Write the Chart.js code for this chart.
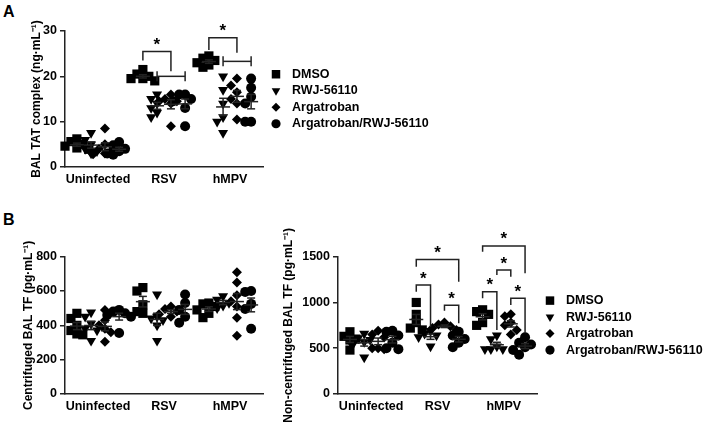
<!DOCTYPE html>
<html>
<head>
<meta charset="utf-8">
<script src="https://cdn.jsdelivr.net/npm/chart.js@4.4.1/dist/chart.umd.min.js"></script>
<style>
  body { margin: 0; background: #fff; font-family: Arial, "Liberation Sans", sans-serif; }
  #page { position: relative; width: 709px; height: 434px; overflow: hidden; }
  canvas { position: absolute; }
  .panel { position: absolute; font-weight: bold; font-size: 16px; }
</style>
</head>
<body>
<div id="page">
  <div class="panel" style="left:3px; top:3px">A</div>
  <div class="panel" style="left:3px; top:211px">B</div>
  <canvas id="tat" width="440" height="200" style="left:0; top:0"></canvas>
  <canvas id="cen" width="275" height="224" style="left:0; top:210px"></canvas>
  <canvas id="nonCen" width="439" height="224" style="left:270px; top:210px"></canvas>
</div>
<script>
const categories = ['Uninfected', 'RSV', 'hMPV'];
const groupNames = ['DMSO', 'RWJ-56110', 'Argatroban', 'Argatroban/RWJ-56110'];

// A: BAL TAT complex (ng/mL) - each array is [Uninfected, RSV, hMPV]
const tatDmso = [[6.2, 5.6, 5, 4.6, 4.2, 3.9], [21.5, 20.5, 20, 19.5, 19.5, 19], [24.5, 24, 23.5, 23, 22.5, 22]];
const tatRwj = [[7.5, 6, 5, 4, 3.5, 3], [16, 15, 14, 13, 12, 11], [20, 17, 14, 11, 10, 7.5]];
const tatArg = [[8.5, 5, 4, 3.5, 3, 2.8], [16, 15, 14.5, 14.5, 14, 9], [19.5, 18, 16.5, 15, 14, 10.5]];
const tatCombo = [[5.5, 4.8, 4, 3.5, 3, 2.7], [16, 16, 15, 14.5, 13, 9], [19.5, 17.5, 15.5, 14, 10, 10]];
const tatTicks = [0, 10, 20, 30];

// B: centrifuged BAL TF (pg/mL)
const cenDmso = [[470, 440, 400, 370, 350, 345], [620, 600, 520, 480, 470], [530, 525, 510, 490, 470, 445]];
const cenRwj = [[475, 450, 410, 380, 370, 310], [580, 450, 440, 430, 400, 310], [570, 550, 530, 515, 500]];
const cenArg = [[490, 430, 400, 380, 360, 305], [510, 495, 480, 465, 450], [710, 650, 575, 540, 510, 445, 340]];
const cenCombo = [[490, 480, 470, 460, 450, 355], [580, 530, 490, 450, 415], [600, 595, 525, 495, 380]];
const cenTicks = [0, 200, 400, 600, 800];

// B: non-centrifuged BAL TF (pg/mL)
const ncDmso = [[680, 630, 600, 590, 480], [1000, 870, 780, 720, 700], [920, 900, 870, 780, 750]];
const ncRwj = [[660, 610, 590, 570, 530, 400], [690, 660, 640, 620, 520], [640, 600, 520, 490, 490, 490]];
const ncArg = [[690, 650, 620, 500, 500, 490], [780, 760, 740, 720, 700], [870, 850, 780, 750, 700, 650]];
const ncCombo = [[690, 680, 640, 560, 500, 490], [680, 640, 600, 560, 510], [620, 560, 540, 510, 480, 430]];
const ncTicks = [0, 500, 1000, 1500];

// significance brackets: category, from/to group, bar level and leg ends in axis units
const tatBrackets = [
  { cat: 1, from: 0, to: 2, top: 25.5, left: 23.5, right: 21.1 },
  { cat: 2, from: 0, to: 2, top: 28.5, left: 25.8, right: 25.2 },
];
const tatBars = [
  { cat: 1, from: 1, to: 3, at: 20 },
  { cat: 2, from: 1, to: 3, at: 23.3 },
];
const ncBrackets = [
  { cat: 1, from: 0, to: 1, top: 1190, left: 1118, right: 736 },
  { cat: 1, from: 0, to: 3, top: 1470, left: 1390, right: 1227 },
  { cat: 1, from: 2, to: 3, top: 970, left: 910, right: 772 },
  { cat: 2, from: 0, to: 3, top: 1617, left: 1555, right: 1318 },
  { cat: 2, from: 1, to: 2, top: 1354, left: 1300, right: 1282 },
  { cat: 2, from: 0, to: 1, top: 1118, left: 1045, right: 699 },
  { cat: 2, from: 2, to: 3, top: 1045, left: 972, right: 663 },
];

const markerStyles = [
  { pointStyle: 'rect', pointRotation: 0, pointRadius: 6.5 },
  { pointStyle: 'triangle', pointRotation: 180, pointRadius: 5.8 },
  { pointStyle: 'rectRot', pointRotation: 0, pointRadius: 5 },
  { pointStyle: 'circle', pointRotation: 0, pointRadius: 5 },
];
const legendRadius = [6, 5, 4.5, 4.6];
const groupOffsets = [-0.32, -0.105, 0.105, 0.32];
const ink = '#222';
const fontFamily = 'Arial, "Liberation Sans", sans-serif';
const boldFont = size => ({ family: fontFamily, size, weight: 'bold' });

function mean(a) {
  return a.reduce((s, v) => s + v, 0) / a.length;
}

function sem(a) {
  const m = mean(a);
  return Math.sqrt(a.reduce((s, v) => s + (v - m) ** 2, 0) / (a.length - 1) / a.length);
}

// push overlapping dots sideways, like a GraphPad scatter dot plot
function spread(vals, gap, step) {
  const offs = vals.map(() => 0);
  const done = [];
  vals.map((v, i) => i).sort((a, b) => vals[b] - vals[a]).forEach(i => {
    const tries = [0, -step, step, -2 * step, 2 * step];
    const ok = tries.find(o => done.every(j => Math.abs(vals[j] - vals[i]) >= gap || Math.abs(offs[j] - o) >= step * 0.99));
    offs[i] = ok === undefined ? 0 : ok;
    done.push(i);
  });
  return offs;
}

function overlay(series, brackets, bars) {
  return {
    id: 'overlay',
    afterDatasetsDraw(chart) {
      const { ctx, scales: { x, y } } = chart;
      const gx = (c, g) => x.getPixelForValue(c + groupOffsets[g]);
      const seg = (x1, y1, x2, y2) => { ctx.beginPath(); ctx.moveTo(x1, y1); ctx.lineTo(x2, y2); ctx.stroke(); };
      ctx.save();
      ctx.strokeStyle = ink;
      ctx.lineWidth = 1.5;
      // mean +/- SEM
      series.forEach((ser, g) => ser.forEach((vals, c) => {
        const px = gx(c, g);
        const m = mean(vals), e = sem(vals);
        const ym = y.getPixelForValue(m), lo = y.getPixelForValue(m - e), hi = y.getPixelForValue(m + e);
        seg(px - 7, ym, px + 7, ym);
        seg(px, lo, px, hi);
        seg(px - 4, lo, px + 4, lo);
        seg(px - 4, hi, px + 4, hi);
      }));
      bars.forEach(b => {
        const x1 = gx(b.cat, b.from), x2 = gx(b.cat, b.to), py = y.getPixelForValue(b.at);
        seg(x1, py, x2, py);
        seg(x1, py - 5, x1, py + 5);
        seg(x2, py - 5, x2, py + 5);
      });
      ctx.fillStyle = '#000';
      ctx.font = 'bold 17px ' + fontFamily;
      ctx.textAlign = 'center';
      brackets.forEach(b => {
        const x1 = gx(b.cat, b.from), x2 = gx(b.cat, b.to), top = y.getPixelForValue(b.top);
        ctx.beginPath();
        ctx.moveTo(x1, y.getPixelForValue(b.left));
        ctx.lineTo(x1, top);
        ctx.lineTo(x2, top);
        ctx.lineTo(x2, y.getPixelForValue(b.right));
        ctx.stroke();
        ctx.fillText('*', (x1 + x2) / 2, top - 1.5);
      });
      ctx.restore();
    }
  };
}

// legend column to the right of the plot, centred on it
const sideLegend = {
  id: 'sideLegend',
  afterDraw(chart) {
    const { ctx, chartArea: { right, top, bottom } } = chart;
    const mid = (top + bottom) / 2;
    ctx.save();
    ctx.fillStyle = '#000';
    ctx.font = 'bold 12.5px ' + fontFamily;
    ctx.textBaseline = 'middle';
    chart.data.datasets.forEach((ds, i) => {
      const yy = mid + (i - 1.5) * 16.5;
      Chart.helpers.drawPoint(ctx, { pointStyle: ds.pointStyle, rotation: ds.pointRotation, radius: legendRadius[i], borderWidth: 0 }, right + 13, yy);
      ctx.fillText(ds.label, right + 29, yy);
    });
    ctx.restore();
  }
};

function makeChart(id, series, cfg) {
  const datasets = series.map((ser, g) => ({
    label: groupNames[g],
    data: ser.flatMap((vals, c) => {
      const offs = spread(vals, cfg.gap, 0.09);
      return vals.map((v, i) => ({ x: c + groupOffsets[g] + offs[i], y: v }));
    }),
    ...markerStyles[g],
    backgroundColor: '#000',
    borderColor: '#000',
    borderWidth: 0,
    clip: false,
  }));

  const plugins = [overlay(series, cfg.brackets, cfg.bars)];
  if (cfg.legend) plugins.push(sideLegend);

  return new Chart(document.getElementById(id), {
    type: 'scatter',
    data: { datasets },
    options: {
      responsive: false,
      animation: false,
      devicePixelRatio: 1,
      layout: { padding: { top: cfg.top, bottom: cfg.bottom, left: 0, right: cfg.right } },
      plugins: {
        tooltip: { enabled: false },
        legend: { display: false },
      },
      scales: {
        x: {
          type: 'linear',
          min: -0.5,
          max: 2.5,
          afterBuildTicks: s => { s.ticks = categories.map((_, i) => ({ value: i })); },
          afterFit: s => { s.height = 20; },
          ticks: { callback: v => categories[v], padding: 5, autoSkip: false, maxRotation: 0, color: '#000', font: boldFont(12.5) },
          grid: { drawOnChartArea: false, drawTicks: false },
          border: { color: ink, width: 1.5 },
        },
        y: {
          min: cfg.ticks[0],
          max: cfg.ticks[cfg.ticks.length - 1],
          afterBuildTicks: s => { s.ticks = cfg.ticks.map(v => ({ value: v })); },
          afterFit: s => { s.width = cfg.axisWidth; },
          ticks: { callback: v => String(v), padding: 3, color: '#000', font: boldFont(12.5) },
          grid: { drawOnChartArea: false, tickLength: 5, color: ink, lineWidth: 1.5 },
          border: { color: ink, width: 1.5 },
          title: { display: true, text: cfg.title, color: '#000', font: boldFont(12), padding: { top: cfg.titlePad, bottom: 0 } },
        },
      },
    },
    plugins,
  });
}

makeChart('tat', [tatDmso, tatRwj, tatArg, tatCombo], {
  ticks: tatTicks, gap: 1.8, top: 31, bottom: 13, right: 177, axisWidth: 65, titlePad: 29,
  title: 'BAL TAT complex (ng·mL⁻¹)', legend: true, brackets: tatBrackets, bars: tatBars,
});

makeChart('cen', [cenDmso, cenRwj, cenArg, cenCombo], {
  ticks: cenTicks, gap: 46, top: 46.7, bottom: 20, right: 12, axisWidth: 65, titlePad: 21,
  title: 'Centrifuged BAL TF (pg·mL⁻¹)', legend: false, brackets: [], bars: [],
});

makeChart('nonCen', [ncDmso, ncRwj, ncArg, ncCombo], {
  ticks: ncTicks, gap: 87, top: 46.7, bottom: 20, right: 172, axisWidth: 68, titlePad: 11,
  title: 'Non-centrifuged BAL TF (pg·mL⁻¹)', legend: true, brackets: ncBrackets, bars: [],
});
</script>
</body>
</html>
